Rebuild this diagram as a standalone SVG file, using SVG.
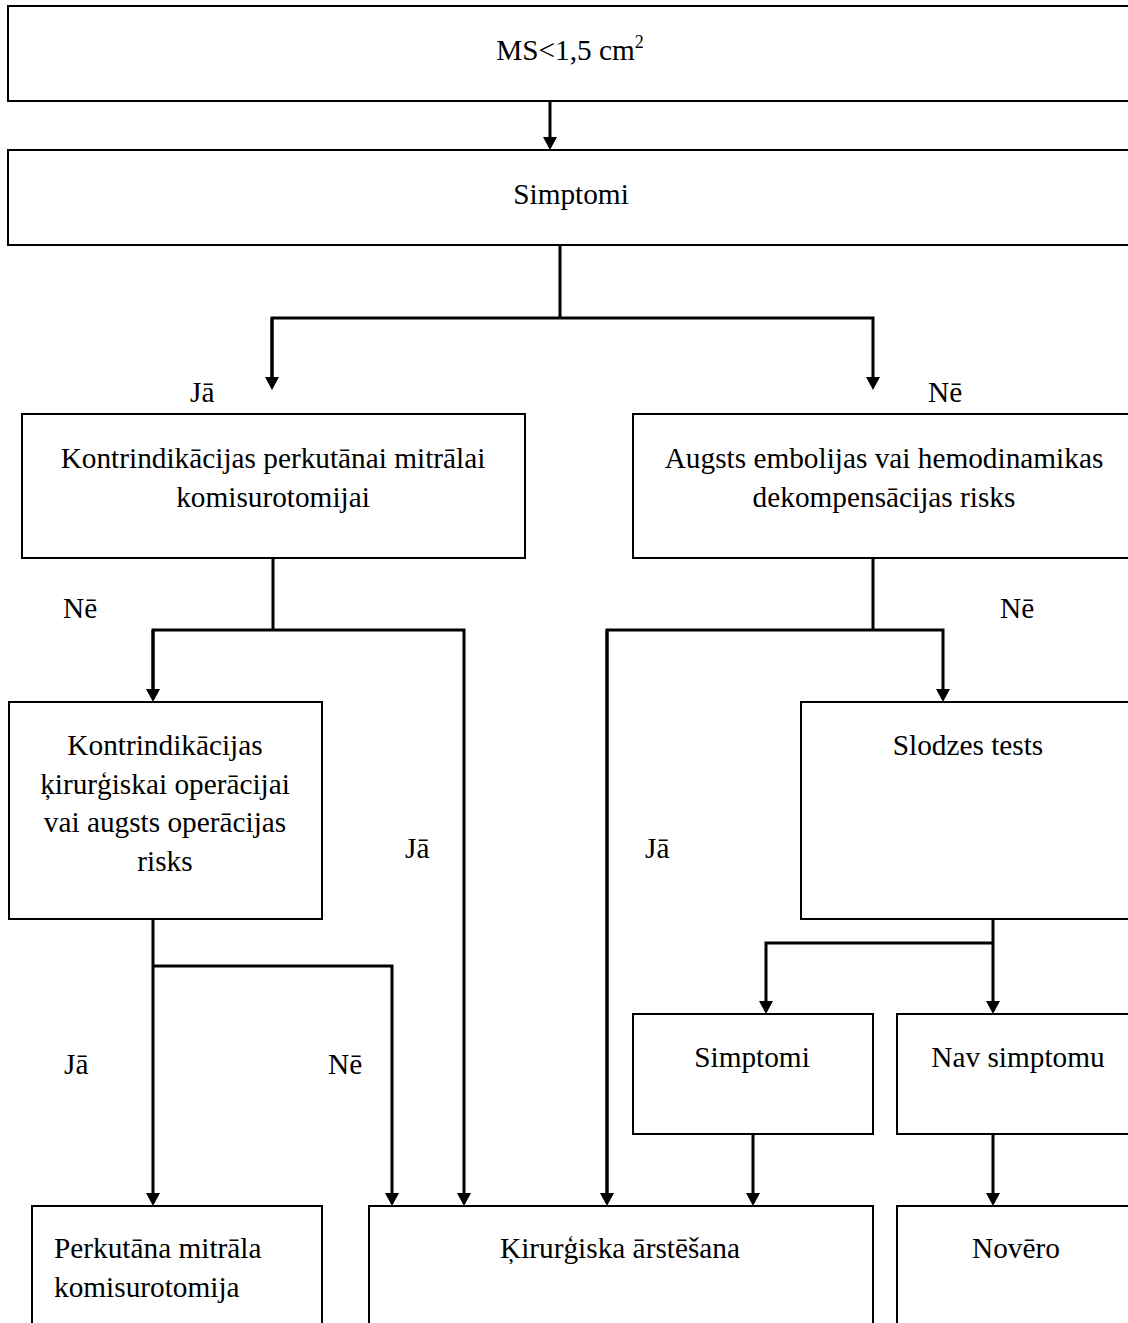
<svg xmlns="http://www.w3.org/2000/svg" width="1128" height="1323" viewBox="0 0 1128 1323" font-family="Liberation Serif, Times New Roman, serif" font-size="29.3">
<style>
.box{fill:#fff;stroke:#000;stroke-width:2}
.c{text-anchor:middle}
.ln{fill:none;stroke:#000;stroke-width:3;stroke-linejoin:miter}
</style>
<defs>
<marker id="ah" viewBox="0 0 13 14" refX="0" refY="7" markerWidth="13" markerHeight="14" markerUnits="userSpaceOnUse" orient="auto">
<path d="M0,0 L13,7 L0,14 z" fill="#000"/>
</marker>
</defs>
<rect width="1128" height="1323" fill="#fff"/>
<g id="n1"><rect class="box" x="8" y="6" width="1130" height="95"/><text class="c" x="570" y="60">MS&lt;1,5 cm<tspan font-size="18" dy="-12">2</tspan></text></g>
<g id="n2"><rect class="box" x="8" y="150" width="1130" height="95"/><text class="c" x="571" y="204">Simptomi</text></g>
<g id="n3"><rect class="box" x="22" y="414" width="503" height="144"/><text class="c" x="273" y="468">Kontrindikācijas perkutānai mitrālai</text><text class="c" x="273" y="507">komisurotomijai</text></g>
<g id="n4"><rect class="box" x="633" y="414" width="503" height="144"/><text class="c" x="884" y="468">Augsts embolijas vai hemodinamikas</text><text class="c" x="884" y="507">dekompensācijas risks</text></g>
<g id="n5"><rect class="box" x="9" y="702" width="313" height="217"/><text class="c" x="165" y="755">Kontrindikācijas</text><text class="c" x="165" y="794">ķirurģiskai operācijai</text><text class="c" x="165" y="832">vai augsts operācijas</text><text class="c" x="165" y="871">risks</text></g>
<g id="n6"><rect class="box" x="801" y="702" width="334" height="217"/><text class="c" x="968" y="755">Slodzes tests</text></g>
<g id="n7"><rect class="box" x="633" y="1014" width="240" height="120"/><text class="c" x="752" y="1067">Simptomi</text></g>
<g id="n8"><rect class="box" x="897" y="1014" width="242" height="120"/><text class="c" x="1018" y="1067">Nav simptomu</text></g>
<g id="n9"><rect class="box" x="32" y="1206" width="290" height="130"/><text x="54" y="1258">Perkutāna mitrāla</text><text x="54" y="1297">komisurotomija</text></g>
<g id="n10"><rect class="box" x="369" y="1206" width="504" height="130"/><text class="c" x="620" y="1258">Ķirurģiska ārstēšana</text></g>
<g id="n11"><rect class="box" x="897" y="1206" width="242" height="130"/><text class="c" x="1016" y="1258">Novēro</text></g>
<g id="connectors">
<path class="ln" d="M550,101 V137" marker-end="url(#ah)"/>
<path class="ln" d="M560,245 V318"/>
<path class="ln" d="M272,377 V318 H873 V377" marker-end="url(#ah)"/>
<path class="ln" d="M272,318 V377" marker-end="url(#ah)"/>
<path class="ln" d="M273,558 V630"/>
<path class="ln" d="M153,689 V630 H464 V1193" marker-end="url(#ah)"/>
<path class="ln" d="M153,630 V689" marker-end="url(#ah)"/>
<path class="ln" d="M873,558 V630"/>
<path class="ln" d="M607,1193 V630 H943 V689" marker-end="url(#ah)"/>
<path class="ln" d="M607,630 V1193" marker-end="url(#ah)"/>
<path class="ln" d="M153,919 V1193" marker-end="url(#ah)"/>
<path class="ln" d="M153,966 H392 V1193" marker-end="url(#ah)"/>
<path class="ln" d="M993,919 V1001" marker-end="url(#ah)"/>
<path class="ln" d="M993,943 H766 V1001" marker-end="url(#ah)"/>
<path class="ln" d="M753,1134 V1193" marker-end="url(#ah)"/>
<path class="ln" d="M993,1134 V1193" marker-end="url(#ah)"/>
</g>
<g id="labels">
<text x="190" y="402">Jā</text>
<text x="928" y="402">Nē</text>
<text x="63" y="618">Nē</text>
<text x="1000" y="618">Nē</text>
<text x="405" y="858">Jā</text>
<text x="645" y="858">Jā</text>
<text x="64" y="1074">Jā</text>
<text x="328" y="1074">Nē</text>
</g>
</svg>
